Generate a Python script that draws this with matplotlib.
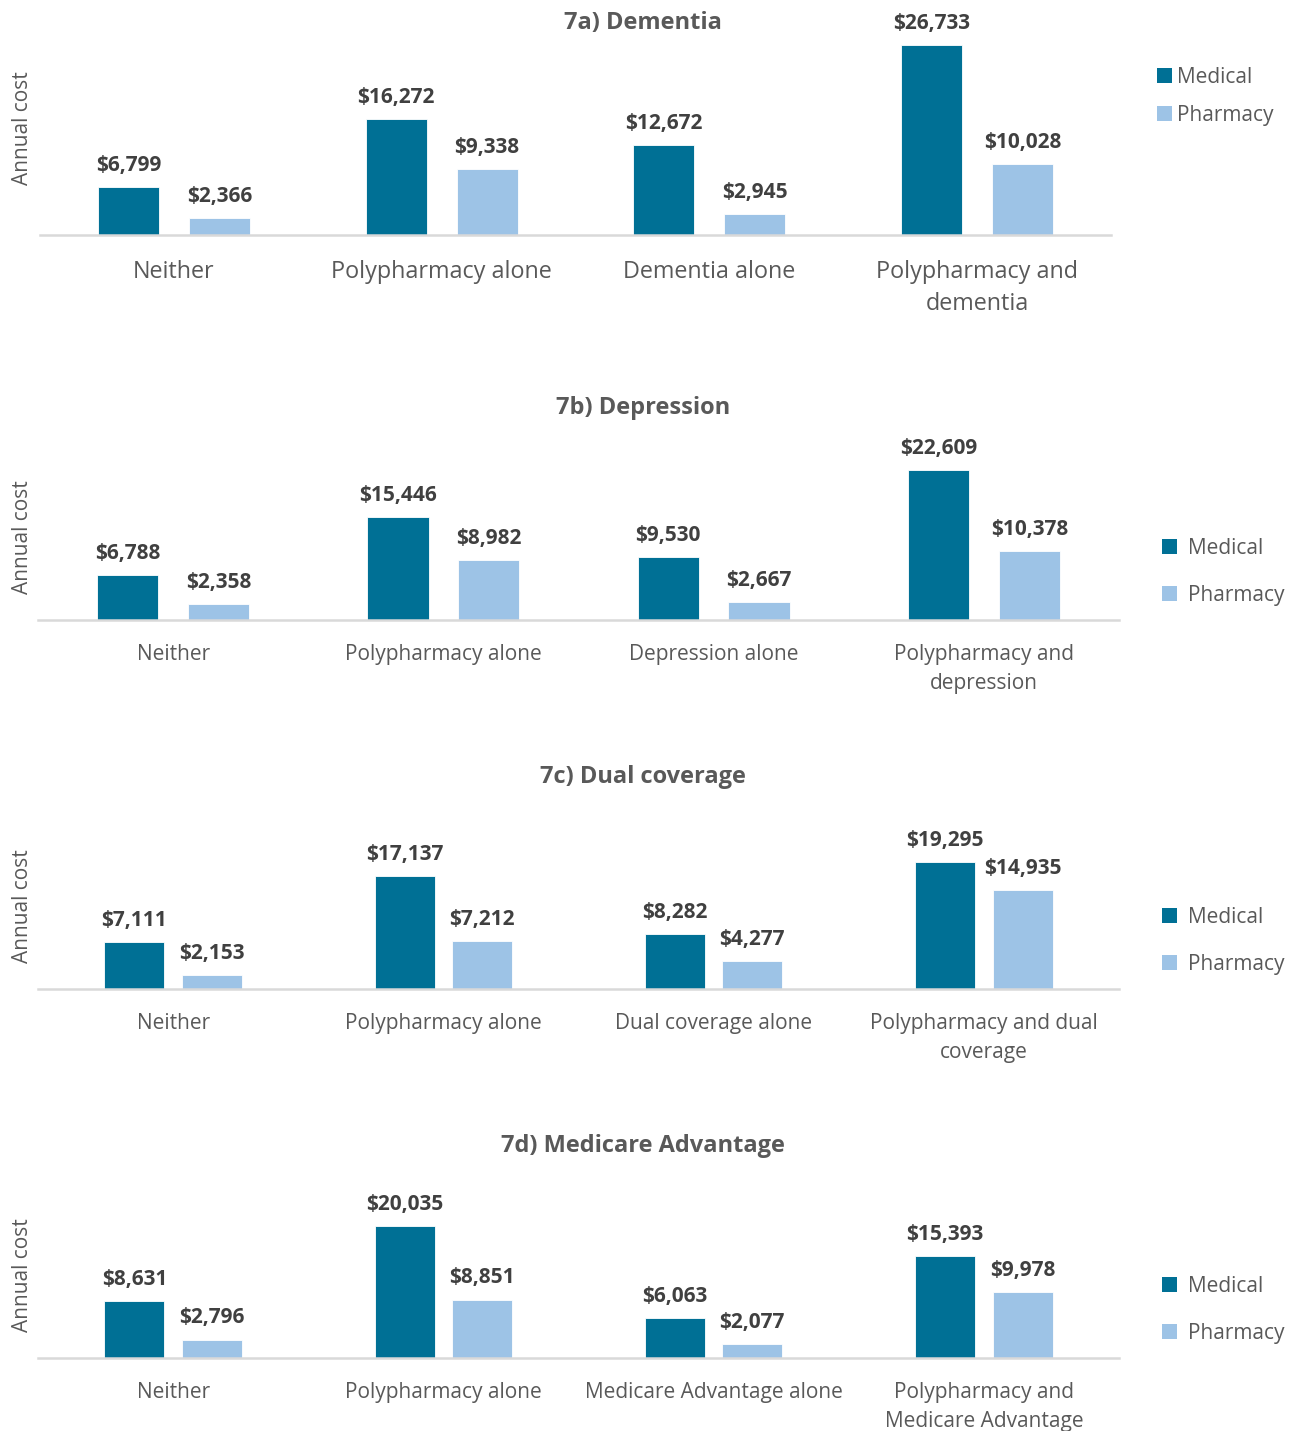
import matplotlib
matplotlib.use("Agg")
import matplotlib.pyplot as plt
from matplotlib.patches import Patch
import numpy as np

W, H = 1298, 1431
FONT = "Open Sans"

series = ["Medical", "Pharmacy"]
colors = ["#007095", "#9DC3E6"]

titles = ["7a) Dementia", "7b) Depression", "7c) Dual coverage", "7d) Medicare Advantage"]

cats_a = ["Neither", "Polypharmacy alone", "Dementia alone", "Polypharmacy and\ndementia"]
med_a = [6799, 16272, 12672, 26733]
pha_a = [2366, 9338, 2945, 10028]

cats_b = ["Neither", "Polypharmacy alone", "Depression alone", "Polypharmacy and\ndepression"]
med_b = [6788, 15446, 9530, 22609]
pha_b = [2358, 8982, 2667, 10378]

cats_c = ["Neither", "Polypharmacy alone", "Dual coverage alone", "Polypharmacy and dual\ncoverage"]
med_c = [7111, 17137, 8282, 19295]
pha_c = [2153, 7212, 4277, 14935]

cats_d = ["Neither", "Polypharmacy alone", "Medicare Advantage alone", "Polypharmacy and\nMedicare Advantage"]
med_d = [8631, 20035, 6063, 15393]
pha_d = [2796, 8851, 2077, 9978]

y_label = "Annual cost"

panels = [
    dict(cats=cats_a, med=med_a, pha=pha_a, left=40, right=1111, top=22, base=235, ymax=30000,
         bw=0.228, off=0.17, cfs=16.8, pad=25, ls=1.45, dfs=15, lfs=15, title_y=23,
         leg=(1157, 67), legsp=0.8, htp=0.25),
    dict(cats=cats_b, med=med_b, pha=pha_b, left=38, right=1119, top=454, base=620, ymax=25000,
         bw=0.226, off=0.168, cfs=15, pad=24, ls=1.5, dfs=15, lfs=15, title_y=408,
         leg=(1162, 538), legsp=1.25, htp=0.55),
    dict(cats=cats_c, med=med_c, pha=pha_c, left=38, right=1119, top=824, base=989, ymax=25000,
         bw=0.222, off=0.143, cfs=15, pad=24, ls=1.5, dfs=15, lfs=15, title_y=777,
         leg=(1162, 907), legsp=1.25, htp=0.55),
    dict(cats=cats_d, med=med_d, pha=pha_d, left=38, right=1119, top=1193, base=1358, ymax=25000,
         bw=0.222, off=0.143, cfs=15, pad=24, ls=1.5, dfs=15, lfs=15, title_y=1146,
         leg=(1162, 1276), legsp=1.25, htp=0.55),
]

fig = plt.figure(figsize=(W / 100, H / 100), dpi=100)

for p, title in zip(panels, titles):
    ax = fig.add_axes([p["left"] / W, 1 - p["base"] / H, (p["right"] - p["left"]) / W,
                       (p["base"] - p["top"]) / H])
    x = np.arange(len(p["cats"]))
    for vals, col, sgn in [(p["med"], colors[0], -1), (p["pha"], colors[1], 1)]:
        bars = ax.bar(x + sgn * p["off"], vals, width=p["bw"], color=col, edgecolor="white",
                      linewidth=0.6, zorder=2)
        for b, v in zip(bars, vals):
            ax.annotate(f"${v:,}", (b.get_x() + b.get_width() / 2, v), xytext=(0, 8),
                        textcoords="offset points", ha="center", va="bottom",
                        fontsize=p["dfs"], fontweight="bold", color="#404040", family=FONT)
    ax.set_xlim(-0.5, len(p["cats"]) - 0.5)
    ax.set_ylim(0, p["ymax"])
    ax.set_xticks(x)
    ax.set_xticklabels(p["cats"], fontsize=p["cfs"], color="#595959", family=FONT,
                       linespacing=p["ls"])
    ax.tick_params(axis="x", length=0, pad=p["pad"] * 0.72)
    ax.set_yticks([])
    for s in ["top", "right", "left"]:
        ax.spines[s].set_visible(False)
    ax.spines["bottom"].set_color("#D9D9D9")
    ax.spines["bottom"].set_linewidth(1.8)
    ax.spines["bottom"].set_zorder(3)
    ax.set_ylabel(y_label, fontsize=15, color="#595959", family=FONT)
    ax.yaxis.set_label_coords(-(p["left"] - 33) / (p["right"] - p["left"]), 0.5)
    fig.text(643 / W, 1 - p["title_y"] / H, title, ha="center", va="center", fontsize=17,
             fontweight="bold", color="#595959", family=FONT)
    handles = [Patch(facecolor=c, edgecolor="none") for c in colors]
    fig.legend(handles, series, loc="upper left",
               bbox_to_anchor=(p["leg"][0] / W, 1 - p["leg"][1] / H),
               bbox_transform=fig.transFigure, frameon=False,
               handlelength=0.7, handleheight=0.7, handletextpad=p["htp"],
               labelspacing=p["legsp"], borderpad=0, borderaxespad=0,
               labelcolor="#595959", prop={"family": FONT, "size": p["lfs"]})

fig.savefig("out.png", dpi=100)
